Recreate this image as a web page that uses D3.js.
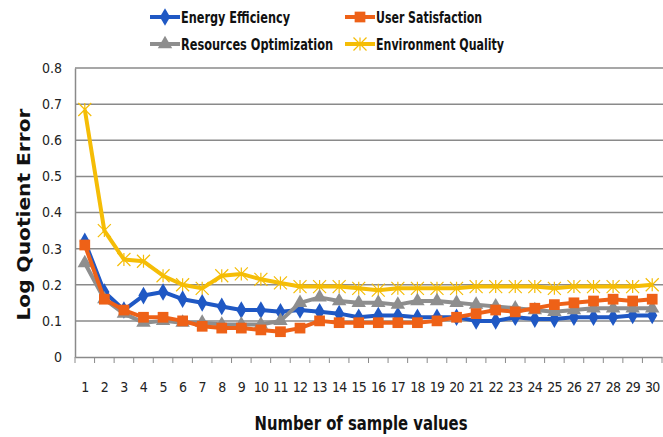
<!DOCTYPE html>
<html lang="en">
<head>
	<meta charset="UTF-8">
	<title>Log Quotient Error</title>
	<script src="https://cdn.jsdelivr.net/npm/d3@7"></script>
	<style>
		body { margin: 0; background: #fff; }
		text { font-family: "DejaVu Sans Condensed", "DejaVu Sans", sans-serif; font-stretch: condensed; }
	</style>
</head>
<body>
	<svg id="svg"></svg>
	<script>
		// data
		var samples = d3.range(1, 31);
		var yTicks = [0, 0.1, 0.2, 0.3, 0.4, 0.5, 0.6, 0.7, 0.8];
		var energyEfficiency = [0.32, 0.18, 0.13, 0.17, 0.18, 0.16, 0.15, 0.14, 0.13, 0.13,
			0.125, 0.13, 0.125, 0.12, 0.11, 0.115, 0.115, 0.11, 0.11, 0.11,
			0.10, 0.10, 0.11, 0.105, 0.105, 0.11, 0.11, 0.11, 0.115, 0.115];
		var userSatisfaction = [0.31, 0.16, 0.13, 0.11, 0.11, 0.10, 0.085, 0.08, 0.08, 0.075,
			0.07, 0.08, 0.10, 0.095, 0.095, 0.095, 0.095, 0.095, 0.10, 0.11,
			0.12, 0.13, 0.125, 0.135, 0.145, 0.15, 0.155, 0.16, 0.155, 0.16];
		var resourcesOptimization = [0.26, 0.16, 0.12, 0.095, 0.10, 0.095, 0.095, 0.09, 0.09, 0.09,
			0.10, 0.15, 0.165, 0.155, 0.15, 0.15, 0.145, 0.155, 0.155, 0.15,
			0.145, 0.14, 0.135, 0.13, 0.125, 0.13, 0.135, 0.135, 0.135, 0.135];
		var environmentQuality = [0.685, 0.35, 0.27, 0.265, 0.225, 0.20, 0.19, 0.225, 0.23, 0.215,
			0.205, 0.195, 0.195, 0.195, 0.19, 0.185, 0.19, 0.19, 0.19, 0.19,
			0.195, 0.195, 0.195, 0.195, 0.19, 0.195, 0.195, 0.195, 0.195, 0.2];

		var series = [
			{ name: "Energy Efficiency", values: energyEfficiency, color: "#1f58c4", symbol: d3.symbolDiamond, size: 90, textW: 109 },
			{ name: "User Satisfaction", values: userSatisfaction, color: "#ee6117", symbol: d3.symbolSquare, size: 115, textW: 106 },
			{ name: "Resources Optimization", values: resourcesOptimization, color: "#8e8e8e", symbol: d3.symbolTriangle, size: 90, textW: 152 },
			{ name: "Environment Quality", values: environmentQuality, color: "#f5bd06", symbol: "star", size: 80, textW: 128 }
		];

		var w = 663, h = 437,
			margin = { top: 68, right: 1, bottom: 80, left: 75 },
			svg = d3.select("#svg").attr("width", w).attr("height", h);

		var x = d3.scaleBand().domain(samples)
			.range([margin.left, w - margin.right]);
		var y = d3.scaleLinear().domain([0, 0.8])
			.range([h - margin.bottom, margin.top]);

		// grid
		svg.append("g").selectAll("line").data(yTicks.slice(1)).enter().append("line")
			.attr("x1", margin.left).attr("x2", w)
			.attr("y1", function(d) { return y(d); }).attr("y2", function(d) { return y(d); })
			.attr("stroke", "#8a8a8a").attr("stroke-width", 1.5);

		// y axis
		var yAxis = svg.append("g")
			.attr("transform", "translate(" + margin.left + ",0)")
			.call(d3.axisLeft(y).tickValues(yTicks).tickSize(0).tickPadding(13)
				.tickFormat(function(d) { return d === 0 ? "0" : d3.format(".1f")(d); }));
		yAxis.select(".domain").attr("stroke", "#8a8a8a").attr("stroke-width", 1.5);
		yAxis.selectAll("text").attr("font-size", 14).attr("fill", "#222")
			.style("font-family", "'DejaVu Sans Condensed', 'DejaVu Sans', sans-serif");

		// x axis
		var xAxis = svg.append("g")
			.attr("transform", "translate(0," + y(0) + ")")
			.call(d3.axisBottom(x).tickSize(0).tickPadding(25));
		xAxis.select(".domain").attr("stroke", "#8a8a8a").attr("stroke-width", 1.5);
		xAxis.selectAll("text").attr("font-size", 14).attr("fill", "#222")
			.attr("letter-spacing", -0.8)
			.style("font-family", "'DejaVu Sans Condensed', 'DejaVu Sans', sans-serif");
		// tick marks between categories
		xAxis.append("g").selectAll("line").data(d3.range(0, samples.length + 1)).enter().append("line")
			.attr("x1", function(i) { return margin.left + i * x.step(); })
			.attr("x2", function(i) { return margin.left + i * x.step(); })
			.attr("y1", 0).attr("y2", 6)
			.attr("stroke", "#8a8a8a").attr("stroke-width", 1);

		function cx(i) { return x(samples[i]) + x.bandwidth() / 2; }

		var line = d3.line()
			.x(function(d, i) { return cx(i); })
			.y(function(d) { return y(d); });

		function drawMarker(g, s, px, py) {
			if (s.symbol === "star") {
				var r = 6.5;
				g.append("path")
					.attr("d", "M" + (px - r) + "," + (py - r) + "L" + (px + r) + "," + (py + r) +
						"M" + (px - r) + "," + (py + r) + "L" + (px + r) + "," + (py - r) +
						"M" + px + "," + (py - r) + "L" + px + "," + (py + r))
					.attr("stroke", s.color).attr("stroke-width", 1.2).attr("fill", "none");
			} else {
				g.append("path")
					.attr("d", d3.symbol().type(s.symbol).size(s.size)())
					.attr("transform", "translate(" + px + "," + py + ")")
					.attr("fill", s.color);
			}
		}

		// draw in stacking order: yellow, blue, gray, orange on top
		[3, 0, 2, 1].forEach(function(k) {
			var s = series[k];
			var g = svg.append("g");
			g.append("path").datum(s.values)
				.attr("d", line)
				.attr("fill", "none").attr("stroke", s.color).attr("stroke-width", 4)
				.attr("stroke-linejoin", "round");
			s.values.forEach(function(v, i) { drawMarker(g, s, cx(i), y(v)); });
		});

		// legend
		var legendPos = [[150, 17], [345, 17], [150, 44], [345, 44]];
		series.forEach(function(s, k) {
			var g = svg.append("g")
				.attr("transform", "translate(" + legendPos[k][0] + "," + legendPos[k][1] + ")");
			g.append("line").attr("x1", 0).attr("x2", 30).attr("y1", 0).attr("y2", 0)
				.attr("stroke", s.color).attr("stroke-width", 4);
			drawMarker(g, s, 15, 0);
			g.append("text").attr("x", 31).attr("y", 5.5)
				.attr("font-size", 16).attr("font-weight", "bold").attr("fill", "#111")
				.attr("textLength", s.textW).attr("lengthAdjust", "spacingAndGlyphs")
				.text(s.name);
		});

		// axis titles
		svg.append("text")
			.attr("transform", "translate(30," + (y(0.4) + 2) + ") rotate(-90)")
			.attr("text-anchor", "middle")
			.attr("font-size", 17).attr("font-weight", "bold")
			.attr("textLength", 212).attr("lengthAdjust", "spacingAndGlyphs")
			.style("font-family", "'DejaVu Sans', sans-serif").style("font-stretch", "normal")
			.attr("fill", "#111")
			.text("Log Quotient  Error");

		svg.append("text")
			.attr("x", 361).attr("y", 430)
			.attr("text-anchor", "middle")
			.attr("font-size", 19).attr("font-weight", "bold").attr("fill", "#111")
			.attr("textLength", 213).attr("lengthAdjust", "spacingAndGlyphs")
			.text("Number of sample values");
	</script>
</body>
</html>
